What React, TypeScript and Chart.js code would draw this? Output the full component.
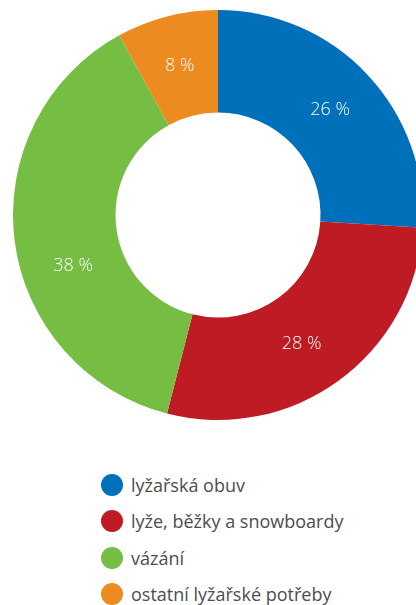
import React, { useEffect, useRef } from "react";
import { Chart, registerables } from "chart.js";

Chart.register(...registerables);

const categories = ["lyžařská obuv", "lyže, běžky a snowboardy", "vázání", "ostatní lyžařské potřeby"];
const values = [26, 28, 38, 8];
const colors = ["#0070BA", "#BE1B24", "#76BE43", "#EC8B20"];
// where along each slice's arc its label sits (0 = start, 1 = end)
const labelFractions = [0.5, 0.53, 0.41, 0.5];

const labelPlugin = {
  id: "sliceLabels",
  afterDatasetsDraw(chart: any) {
    const ctx = chart.ctx;
    const meta = chart.getDatasetMeta(0);
    ctx.save();
    ctx.fillStyle = "#ffffff";
    ctx.font = "300 18px 'Open Sans', sans-serif";
    ctx.textAlign = "center";
    ctx.textBaseline = "middle";
    meta.data.forEach((arc: any, i: number) => {
      const { x, y, startAngle, endAngle, innerRadius, outerRadius } = arc.getProps(
        ["x", "y", "startAngle", "endAngle", "innerRadius", "outerRadius"],
        true
      );
      const a = startAngle + (endAngle - startAngle) * labelFractions[i];
      const r = (innerRadius + outerRadius) / 2;
      ctx.fillText(values[i] + " %", x + Math.cos(a) * r, y + Math.sin(a) * r);
    });
    ctx.restore();
  },
};

export default function App() {
  const ref = useRef<HTMLCanvasElement>(null);
  useEffect(() => {
    if (!ref.current) return;
    const chart = new Chart(ref.current, {
      type: "doughnut",
      data: {
        labels: categories,
        datasets: [
          {
            data: values,
            backgroundColor: colors,
            borderWidth: 0,
          },
        ],
      },
      options: {
        responsive: false,
        animation: false,
        cutout: "50%",
        layout: { padding: { left: 13, top: 10, right: 17, bottom: 20 } },
        plugins: {
          legend: { display: false },
          tooltip: { enabled: false },
        },
      },
      plugins: [labelPlugin],
    });
    return () => chart.destroy();
  }, []);

  return (
    <div
      style={{
        position: "fixed",
        left: 0,
        top: 0,
        width: 416,
        height: 605,
        overflow: "hidden",
        background: "#fff",
        fontFamily: "'Open Sans', sans-serif",
      }}
    >
      <canvas ref={ref} width={440} height={440} style={{ position: "absolute", left: 0, top: 0, width: 440, height: 440 }} />
      <div style={{ position: "absolute", left: 101, top: 467 }}>
        {categories.map((c, i) => (
          <div key={c} style={{ display: "flex", alignItems: "center", height: 36.3 }}>
            <span
              style={{
                display: "inline-block",
                width: 22,
                height: 22,
                borderRadius: "50%",
                background: colors[i],
                marginRight: 8,
              }}
            />
            <span style={{ fontSize: 18, color: "#4d4d4d", whiteSpace: "nowrap" }}>{c}</span>
          </div>
        ))}
      </div>
    </div>
  );
}
